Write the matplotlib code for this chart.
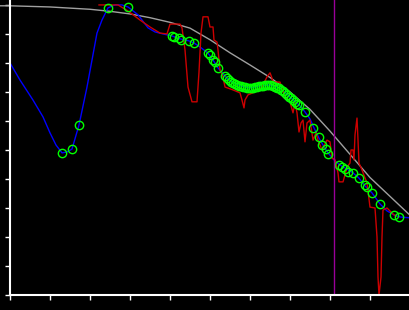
import matplotlib
matplotlib.use("Agg")
import matplotlib.pyplot as plt

# smooth reference curve (gray)
gray_x = [-2.5, 0, 10, 20, 25, 30, 35, 40, 45, 50, 55, 60, 65, 70, 75, 80, 85, 90, 95, 100]
gray_y = [99.7, 99.7, 99.3, 98.5, 97.8, 96.9, 95.6, 94.0, 92.0, 88.0, 83.5, 79.3, 75.0, 70.0,
          64.0, 56.5, 48.5, 40.5, 34.0, 27.5]

# fitted curve (blue)
blue_x = [0, 2.5, 5.75, 8.25, 10, 11.5, 13, 14.25, 15.5, 17.25, 19.25, 20.5, 21.75, 23, 24.5,
          26.25, 28, 29.5, 32, 34.5, 36.25, 38.25, 40.5, 42.5, 44.75, 46, 47.5, 49.5, 50.75,
          52, 53.75, 55, 57.5, 60, 62.5, 65, 67.5, 70, 72.5, 73.75, 75, 76, 77.25, 78.25,
          79.5, 81.25, 82.5, 84.25, 85.75, 87.25, 88.75, 90.5, 92.5, 94.25, 96, 97.5, 100]
blue_y = [80.0, 74.1, 67.2, 61.4, 55.9, 51.7, 49.0, 49.3, 50.3, 58.6, 71.7, 81.0, 90.3, 94.8,
          99.0, 100.0, 100.0, 99.3, 96.6, 92.1, 90.7, 90.0, 89.3, 88.3, 87.6, 86.9, 85.5, 83.4,
          81.0, 78.3, 75.5, 73.8, 72.1, 71.4, 72.1, 72.4, 71.4, 68.3, 65.2, 63.1, 60.7, 57.6,
          54.1, 51.7, 49.0, 46.2, 44.8, 43.4, 42.1, 40.3, 37.6, 35.2, 31.4, 29.0, 27.6, 26.9,
          26.6]

# raw signal (red)
red_x = [22.25, 27, 29.5, 32.5, 35, 37.5, 39.25, 40, 42.5, 43, 43.75, 44.5, 45.5, 46.75, 47.25,
         47.75, 48.25, 49.5, 50, 50.75, 51, 51.75, 52, 52.5, 53.25, 53.75, 55.75, 57.5, 58,
         58.5, 58.75, 59.5, 61.25, 63, 64.25, 65, 65.5, 65.75, 67.5, 68.75, 70, 70.75, 71.25,
         71.75, 72.25, 72.75, 73.25, 73.75, 74.25, 75, 75.75, 76.5, 77, 78, 79.25, 80, 80.5,
         81.25, 82, 82.25, 83.25, 83.75, 84.25, 85, 85.25, 85.75, 86, 86.25, 86.75, 87, 87.25,
         88, 89.25, 90, 91.25, 91.75, 92, 92.25, 92.75, 93, 93.25, 94.25, 95.75, 96.5]
red_y = [100.0, 100.0, 97.9, 94.8, 92.4, 90.3, 90.0, 93.4, 93.4, 92.1, 84.5, 71.7, 66.6, 66.6,
         76.9, 90.3, 95.9, 95.9, 92.4, 92.4, 87.9, 87.2, 84.5, 77.6, 75.2, 71.7, 70.7, 69.7,
         67.2, 64.5, 67.2, 69.0, 70.0, 71.7, 75.2, 76.6, 74.8, 73.4, 73.4, 68.3, 66.6, 62.8,
         66.2, 62.8, 56.2, 59.3, 60.3, 52.8, 59.3, 60.3, 53.4, 55.9, 53.4, 50.0, 53.4, 52.8,
         47.2, 46.6, 42.1, 39.0, 39.0, 41.4, 44.1, 45.5, 50.0, 50.0, 46.6, 55.2, 61.0, 53.4,
         45.5, 43.1, 38.6, 30.3, 30.0, 20.0, 6.2, 0.0, 6.2, 20.0, 29.3, 30.0, 27.9, 27.2]

# sample points (green circles)
pts_x = [13, 15.5, 17.25, 24.5, 29.5, 40.5, 41, 42.25, 42.75, 44.75, 46, 49.5, 50, 50.75,
         51.25, 52, 53.75, 54.25,
         54.75, 55.25, 55.75, 56.25, 56.75, 57.25, 57.75, 58.25, 58.75, 59.25, 59.75, 60.25,
         60.75, 61.25, 61.75, 62.25, 62.75, 63.25, 63.75, 64.25, 64.75, 65.25, 65.75, 66.25,
         66.75, 67.25, 67.75, 68.25, 68.75, 69.25, 69.75, 70.25, 70.75, 71.25, 71.75, 72.25,
         73.75, 75.75, 77.25, 78, 79, 79.5, 82.25, 83, 83.75, 84.5, 85.75, 87.25, 88.75,
         89.25, 90.5, 92.5, 96, 97.25]
pts_y = [49.0, 50.3, 58.6, 99.0, 99.3, 89.3, 89.0, 88.6, 87.9, 87.6, 86.9, 83.4, 82.8, 81.0,
         80.3, 78.3, 75.5, 74.8,
         74.0, 73.6, 73.1, 72.8, 72.5, 72.2, 72.0, 71.8, 71.6, 71.5, 71.4, 71.4, 71.5, 71.6,
         71.8, 72.0, 72.1, 72.2, 72.3, 72.4, 72.4, 72.3, 72.1, 71.8, 71.5, 71.2, 70.8, 70.3,
         69.7, 69.0, 68.4, 67.8, 67.2, 66.6, 66.0, 65.4,
         63.1, 57.6, 54.5, 51.7, 50.3, 48.6, 44.8, 44.1, 43.4, 42.4, 42.1, 40.3, 37.9,
         37.2, 35.2, 31.4, 27.6, 26.9]

marker_x = 81

fig = plt.figure(figsize=(4.1, 3.1), dpi=100, facecolor="black")
ax = fig.add_axes([10 / 410, 15 / 310, 400 / 410, 295 / 310])
ax.set_facecolor("black")

ax.plot(gray_x, gray_y, color="#a0a0a0", lw=1, clip_on=False)
ax.plot(blue_x, blue_y, color="#0000ff", lw=1)
ax.plot(red_x, red_y, color="#cc0000", lw=1)
ax.plot(pts_x, pts_y, ls="none", marker="o", ms=6, mfc="none", mec="#00ff00", mew=1)
ax.axvline(marker_x, color="#990099", lw=1)

ax.set_xlim(0, 100)
ax.set_ylim(0, 101.7)
ax.set_xticks(range(0, 101, 10))
ax.set_yticks(range(0, 101, 10))
ax.tick_params(colors="white", length=3.5, width=1, labelleft=False, labelbottom=False)
for s in ["top", "right"]:
    ax.spines[s].set_visible(False)
for s in ["left", "bottom"]:
    ax.spines[s].set_color("white")
    ax.spines[s].set_linewidth(1.5)

plt.savefig("out.png", dpi=100, facecolor="black")
